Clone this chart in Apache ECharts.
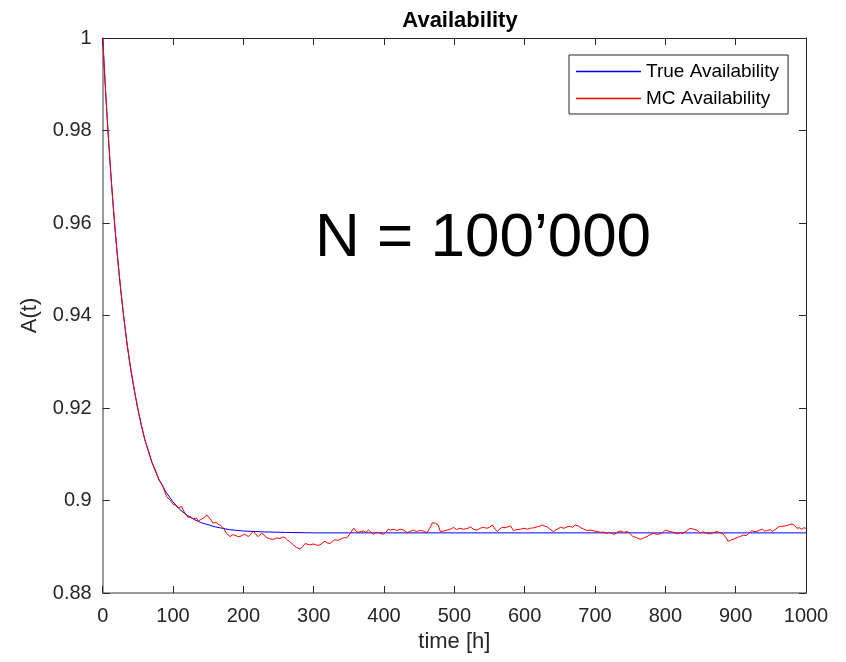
<!DOCTYPE html>
<html>
<head>
<meta charset="utf-8">
<script src="https://cdn.jsdelivr.net/npm/echarts@6/dist/echarts.min.js"></script>
<style>
html,body{margin:0;padding:0;background:#fff;}
#chart{width:846px;height:662px;}
</style>
</head>
<body>
<div id="chart"></div>
<script>
// ---- data ----
const trueTime = [0,2.5,5,7.5,10,12.5,15,17.5,20,25,30,35,40,45,50,55,60,65,70,75,80,90,100,110,120,130,140,160,180,200,230,260,300,400,500,600,700,800,900,1000];
const trueValue = [1.0000,0.9928,0.9861,0.9799,0.9741,0.9686,0.9635,0.9588,0.9544,0.9464,0.9395,0.9335,0.9282,0.9237,0.9197,0.9162,0.9132,0.9106,0.9083,0.9063,0.9046,0.9018,0.8997,0.8980,0.8968,0.8959,0.8952,0.8943,0.8937,0.8934,0.8932,0.8931,0.8930,0.8930,0.8930,0.8930,0.8930,0.8930,0.8930,0.8930];

const mcTime = [0,3,6,9,12,15,18,21,24,27,30,34,38,42,46,50,55,60,65,70,75,80,85,91,96,100,104,107,112,117,122,125,129,133,136,141,145,148,150,153,157,161,164,168,172,176,181,185,188,192,195,199,202,207,211,214,218,221,226,230,233,238,243,247,252,256,259,263,266,271,276,281,284,288,292,295,299,302,306,309,313,316,320,323,327,330,335,340,344,347,352,357,360,363,367,371,374,378,381,385,388,392,396,399,403,406,409,414,418,423,428,433,437,442,446,451,456,461,465,469,473,477,480,485,490,494,499,503,508,513,518,523,527,532,537,541,546,550,554,558,561,565,568,572,576,580,584,589,594,599,604,608,613,618,622,625,629,632,636,641,646,651,656,660,665,668,672,676,679,684,689,694,699,703,708,712,717,721,726,730,733,737,741,746,750,754,759,764,769,774,778,783,788,793,797,800,804,807,812,817,821,825,830,835,840,845,849,854,859,864,869,874,878,882,886,889,893,898,902,906,911,915,918,923,926,930,934,938,941,945,949,952,956,961,965,970,975,980,984,987,991,994,997,1000];
const mcValue = [1.0000,0.9917,0.9836,0.9764,0.9696,0.9637,0.9580,0.9527,0.9481,0.9436,0.9396,0.9345,0.9302,0.9266,0.9231,0.9199,0.9163,0.9130,0.9108,0.9082,0.9066,0.9044,0.9033,0.9008,0.9001,0.8992,0.8989,0.8984,0.8987,0.8972,0.8963,0.8965,0.8960,0.8962,0.8956,0.8960,0.8964,0.8969,0.8966,0.8960,0.8951,0.8953,0.8949,0.8946,0.8940,0.8929,0.8922,0.8926,0.8925,0.8922,0.8922,0.8925,0.8927,0.8922,0.8928,0.8934,0.8926,0.8922,0.8929,0.8925,0.8920,0.8917,0.8916,0.8919,0.8918,0.8921,0.8920,0.8914,0.8911,0.8904,0.8898,0.8895,0.8900,0.8907,0.8905,0.8904,0.8906,0.8905,0.8903,0.8904,0.8909,0.8912,0.8908,0.8907,0.8912,0.8915,0.8914,0.8918,0.8920,0.8919,0.8929,0.8940,0.8934,0.8931,0.8933,0.8934,0.8931,0.8936,0.8932,0.8927,0.8930,0.8931,0.8928,0.8927,0.8932,0.8938,0.8936,0.8938,0.8935,0.8938,0.8936,0.8930,0.8933,0.8936,0.8933,0.8935,0.8934,0.8930,0.8940,0.8952,0.8951,0.8947,0.8933,0.8934,0.8936,0.8938,0.8942,0.8937,0.8940,0.8938,0.8939,0.8943,0.8938,0.8936,0.8940,0.8942,0.8940,0.8942,0.8947,0.8938,0.8933,0.8939,0.8942,0.8941,0.8943,0.8945,0.8935,0.8937,0.8938,0.8940,0.8938,0.8940,0.8941,0.8943,0.8945,0.8947,0.8944,0.8943,0.8938,0.8933,0.8938,0.8942,0.8940,0.8943,0.8944,0.8942,0.8947,0.8945,0.8942,0.8938,0.8935,0.8936,0.8934,0.8933,0.8931,0.8932,0.8929,0.8931,0.8927,0.8929,0.8933,0.8934,0.8931,0.8933,0.8928,0.8922,0.8920,0.8916,0.8919,0.8922,0.8926,0.8929,0.8927,0.8928,0.8932,0.8936,0.8934,0.8933,0.8931,0.8928,0.8930,0.8929,0.8934,0.8940,0.8938,0.8936,0.8930,0.8932,0.8929,0.8928,0.8931,0.8933,0.8930,0.8928,0.8920,0.8912,0.8914,0.8917,0.8920,0.8922,0.8925,0.8924,0.8928,0.8935,0.8933,0.8933,0.8936,0.8938,0.8934,0.8935,0.8937,0.8933,0.8937,0.8943,0.8944,0.8945,0.8947,0.8949,0.8946,0.8940,0.8941,0.8938,0.8941,0.8940];

const xTickLabels = ['0','100','200','300','400','500','600','700','800','900','1000'];
const yTickLabels = ['0.88','0.9','0.92','0.94','0.96','0.98','1'];
const seriesNames = ['True Availability','MC Availability'];
const titleText = 'Availability';
const xAxisName = 'time [h]';
const yAxisName = 'A(t)';
const annotationText = 'N = 100\u2019000';

// ---- chart ----
const FONT = '"Liberation Sans", Arial, Helvetica, sans-serif';
const AX = '#262626';
const chart = echarts.init(document.getElementById('chart'), null, {renderer: 'canvas'});

const xMin = 0, xMax = 1000, xStep = 100;
const yMin = 0.88, yMax = 1, yStep = 0.02;
const xLabelOf = v => xTickLabels[Math.round((v - xMin) / xStep)] ?? '';
const yLabelOf = v => yTickLabels[Math.round((v - yMin) / yStep)] ?? '';

const baseAxis = {
  type: 'value',
  splitLine: {show: false},
  axisTick: {show: true, inside: true, length: 7, lineStyle: {color: AX, width: 1}},
  axisLine: {show: true, onZero: false, lineStyle: {color: AX, width: 1}}
};

chart.setOption({
  animation: false,
  backgroundColor: '#ffffff',
  title: {
    text: titleText,
    left: 455, top: 5, textAlign: 'center',
    textStyle: {fontFamily: FONT, fontSize: 22, fontWeight: 'bold', color: '#000'}
  },
  legend: {
    orient: 'vertical',
    left: 569, top: 55,
    padding: [7, 9, 6, 7],
    itemWidth: 65, itemHeight: 14, itemGap: 8,
    icon: 'path://M0,0 L100,0 L100,2 L0,2 Z',
    borderColor: '#262626', borderWidth: 1,
    backgroundColor: '#fff',
    textStyle: {fontFamily: FONT, fontSize: 19, color: '#000'},
    data: seriesNames
  },
  grid: {left: 102.7, right: 40, top: 38, bottom: 69, containLabel: false},
  xAxis: [
    Object.assign({}, baseAxis, {
      position: 'bottom', min: xMin, max: xMax, interval: xStep,
      axisLine: {show: true, onZero: false, lineStyle: {color: '#7a7a7a', width: 1.5}},
      axisLabel: {formatter: xLabelOf, fontFamily: FONT, fontSize: 20, color: AX, margin: 13},
      name: xAxisName, nameLocation: 'middle', nameGap: 38,
      nameTextStyle: {fontFamily: FONT, fontSize: 22, color: AX}
    }),
    Object.assign({}, baseAxis, {
      position: 'top', min: xMin, max: xMax, interval: xStep,
      axisLabel: {show: false}
    })
  ],
  yAxis: [
    Object.assign({}, baseAxis, {
      position: 'left', min: yMin, max: yMax, interval: yStep,
      axisLine: {show: true, onZero: false, lineStyle: {color: '#7a7a7a', width: 1.5}},
      axisLabel: {formatter: yLabelOf, fontFamily: FONT, fontSize: 20, color: AX, margin: 11},
      name: yAxisName, nameLocation: 'middle', nameGap: 62, nameRotate: 90,
      nameTextStyle: {fontFamily: FONT, fontSize: 22, color: AX}
    }),
    Object.assign({}, baseAxis, {
      position: 'right', min: yMin, max: yMax, interval: yStep,
      axisLabel: {show: false}
    })
  ],
  graphic: [{
    type: 'text',
    x: 315, y: 239,
    style: {text: annotationText, font: '62px ' + FONT, fill: '#000', verticalAlign: 'middle', align: 'left'},
    z: 100
  }],
  series: [
    {
      name: seriesNames[0], type: 'line', xAxisIndex: 0, yAxisIndex: 0,
      data: trueTime.map((t, i) => [t, trueValue[i]]),
      symbol: 'none', smooth: false,
      lineStyle: {color: '#0000ff', width: 1},
      itemStyle: {color: '#0000ff'}
    },
    {
      name: seriesNames[1], type: 'line', xAxisIndex: 0, yAxisIndex: 0,
      data: mcTime.map((t, i) => [t, mcValue[i]]),
      symbol: 'none', smooth: false,
      lineStyle: {color: '#ff0000', width: 1},
      itemStyle: {color: '#ff0000'}
    }
  ]
});
</script>
</body>
</html>
